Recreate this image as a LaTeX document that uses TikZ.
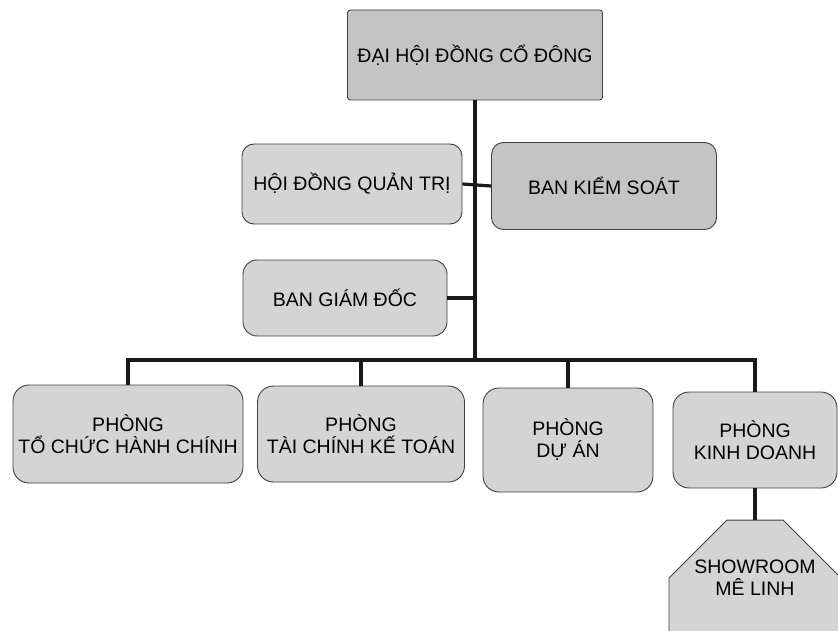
\documentclass[tikz,border=0pt]{standalone}
\usepackage{fontspec}
\setmainfont{Liberation Sans}
\usetikzlibrary{shapes.misc}

\begin{document}
\begin{tikzpicture}[x=1pt, y=-1pt,
    hop/.style={draw=black!75, line width=0.9pt, fill=boxgray, align=center,
        inner sep=0pt, font=\fontsize{19.5}{22}\selectfont},
    noi/.style={line width=3.2pt, black!90}]
    % Định nghĩa màu nền các ô
    \definecolor{boxgray}{RGB}{212, 212, 212}
    \definecolor{boxdark}{RGB}{196, 196, 196}

    \useasboundingbox (0,0) rectangle (838,631);

    % 1. Cấp lãnh đạo
    \node[hop, fill=boxdark, rounded corners=3pt, minimum width=255, minimum height=90]
        (dhcd) at (475,55) {ĐẠI HỘI ĐỒNG CỔ ĐÔNG};
    \node[hop, rounded corners=12pt, minimum width=220, minimum height=80]
        (hdqt) at (352,184) {HỘI ĐỒNG QUẢN TRỊ};
    \node[hop, fill=boxdark, rounded corners=12pt, minimum width=225, minimum height=87]
        (bks) at (604,186) {BAN KIỂM SOÁT};
    \node[hop, rounded corners=14pt, minimum width=204, minimum height=76]
        (bgd) at (345,298) {BAN GIÁM ĐỐC};

    % 2. Các phòng ban
    \node[hop, rounded corners=16pt, minimum width=230, minimum height=98]
        (pTC) at (128,434) {PHÒNG\\TỔ CHỨC HÀNH CHÍNH};
    \node[hop, rounded corners=16pt, minimum width=207, minimum height=96]
        (pKT) at (361,434) {PHÒNG\\TÀI CHÍNH KẾ TOÁN};
    \node[hop, rounded corners=16pt, minimum width=170, minimum height=104]
        (pDA) at (568,440) {PHÒNG\\DỰ ÁN};
    \node[hop, rounded corners=16pt, minimum width=164, minimum height=96]
        (pKD) at (755,440) {PHÒNG\\KINH DOANH};

    % Showroom
    \node[hop, chamfered rectangle, chamfered rectangle corners={north west, north east},
        chamfered rectangle xsep=28pt, chamfered rectangle ysep=40pt,
        minimum width=172, minimum height=104]
        (show) at (755,578) {SHOWROOM\\MÊ LINH};

    % 3. Đường nối
    \coordinate (bus) at (475,360);
    \draw[noi] (dhcd.south) -- (bus);
    \draw[noi] (hdqt.east) -- (bks.west);
    \draw[noi] (bgd.east) -- (bgd.east -| bus);
    \draw[noi] (pTC.north) |- (bus) -| (pKD.north);
    \draw[noi] (pKT.north) -- (pKT.north |- bus);
    \draw[noi] (pDA.north) -- (pDA.north |- bus);
    \draw[noi] (pKD.south) -- (show.north);

\end{tikzpicture}
\end{document}
